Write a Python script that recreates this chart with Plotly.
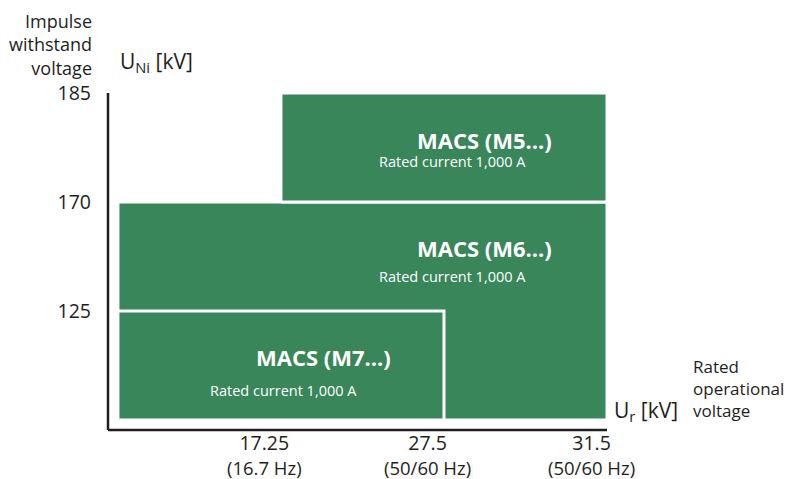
import plotly.graph_objects as go

# ---- data ----
voltage_ticks = ["17.25", "27.5", "31.5"]          # rated operational voltage Ur [kV]
voltage_freq = ["(16.7 Hz)", "(50/60 Hz)", "(50/60 Hz)"]
impulse_ticks = ["125", "170", "185"]              # impulse withstand voltage UNi [kV]

series_names = ["MACS (M6...)", "MACS (M5...)", "MACS (M7...)"]
series_ur_min = [None, "17.25", None]   # None = origin
series_ur_max = ["31.5", "31.5", "27.5"]
series_uni_min = [None, "170", None]
series_uni_max = ["170", "185", "125"]
rated_current = ["Rated current 1,000 A", "Rated current 1,000 A", "Rated current 1,000 A"]

# ---- scales (ordinal positions) ----
xpos = {v: i + 1 for i, v in enumerate(voltage_ticks)}
ypos = {v: i + 1 for i, v in enumerate(impulse_ticks)}
xp = lambda v: 0 if v is None else xpos[v]
yp = lambda v: 0 if v is None else ypos[v]

GREEN = "#38865A"
DARK = "#1e1e1e"
FONT = "Open Sans"

fig = go.Figure()
for name, x0v, x1v, y0v, y1v in zip(series_names, series_ur_min, series_ur_max,
                                     series_uni_min, series_uni_max):
    x0, x1, y0, y1 = xp(x0v), xp(x1v), yp(y0v), yp(y1v)
    fig.add_trace(go.Scatter(
        x=[x0, x1, x1, x0, x0], y=[y0, y0, y1, y1, y0],
        mode="lines", fill="toself", fillcolor=GREEN,
        line=dict(color="white", width=3), name=name, showlegend=False,
        hoverinfo="skip"))

# labels inside rectangles (offsets are styling, relative to the rectangles)
title_off = [(-0.75, -0.42), (-0.75, -0.43), (-0.74, -0.42)]
sub_off = [(-0.95, -0.68), (-0.95, -0.625), (-0.985, -0.73)]
for i, name in enumerate(series_names):
    x1 = xp(series_ur_max[i]); y1 = yp(series_uni_max[i])
    fig.add_annotation(x=x1 + title_off[i][0], y=y1 + title_off[i][1], text="<b>%s</b>" % name,
                       showarrow=False, font=dict(family=FONT, size=22, color="white"))
    fig.add_annotation(x=x1 + sub_off[i][0], y=y1 + sub_off[i][1], text=rated_current[i],
                       showarrow=False, font=dict(family=FONT, size=14.5, color="white"))

# x tick labels (two lines)
for v, f in zip(voltage_ticks, voltage_freq):
    fig.add_annotation(x=xp(v), y=0, xref="x", yref="paper", yanchor="top", yshift=3, xshift=-16,
                       text="%s<br><span style='font-size:18.5px'>%s</span>" % (v, f),
                       showarrow=False, align="center",
                       font=dict(family=FONT, size=19.5, color=DARK))

# axis titles
fig.add_annotation(x=0, y=1, xref="paper", yref="paper", xanchor="right", yanchor="bottom",
                   xshift=-14, yshift=11, text="Impulse<br>withstand<br>voltage", align="right",
                   showarrow=False, font=dict(family=FONT, size=18, color=DARK))
fig.add_annotation(x=0, y=1, xref="paper", yref="paper", xanchor="left", yanchor="bottom",
                   xshift=10, yshift=14, text="U<sub>Ni</sub> [kV]", align="left",
                   showarrow=False, font=dict(family=FONT, size=21, color=DARK))
fig.add_annotation(x=1, y=0, xref="paper", yref="paper", xanchor="left", yanchor="bottom",
                   xshift=5, yshift=2, text="U<sub>r</sub> [kV]", align="left",
                   showarrow=False, font=dict(family=FONT, size=21, color=DARK))
fig.add_annotation(x=1, y=0, xref="paper", yref="paper", xanchor="left", yanchor="bottom",
                   xshift=84, yshift=6, text="Rated<br>operational<br>voltage", align="left",
                   showarrow=False, font=dict(family=FONT, size=17, color=DARK))

fig.update_xaxes(range=[-0.061, 3.0], showgrid=False, zeroline=False, showline=False,
                 showticklabels=False, fixedrange=True)
fig.update_yaxes(range=[-0.092, 3.0], showgrid=False, zeroline=False, showline=False,
                 tickmode="array", tickvals=[ypos[v] for v in impulse_ticks], ticktext=impulse_ticks,
                 ticks="", ticklabelstandoff=16, tickfont=dict(family=FONT, size=19.5, color=DARK))

# axis lines
fig.add_shape(type="line", xref="paper", yref="paper", x0=0, x1=0, y0=0, y1=1,
              line=dict(color=DARK, width=2.5))
fig.add_shape(type="line", xref="paper", yref="paper", x0=0, x1=1, y0=0, y1=0,
              line=dict(color=DARK, width=2.5))

fig.update_layout(width=795, height=471, margin=dict(l=100, r=196, t=85, b=49),
                  paper_bgcolor="white", plot_bgcolor="white",
                  font=dict(family=FONT, color=DARK))
fig.write_html("out.html")
